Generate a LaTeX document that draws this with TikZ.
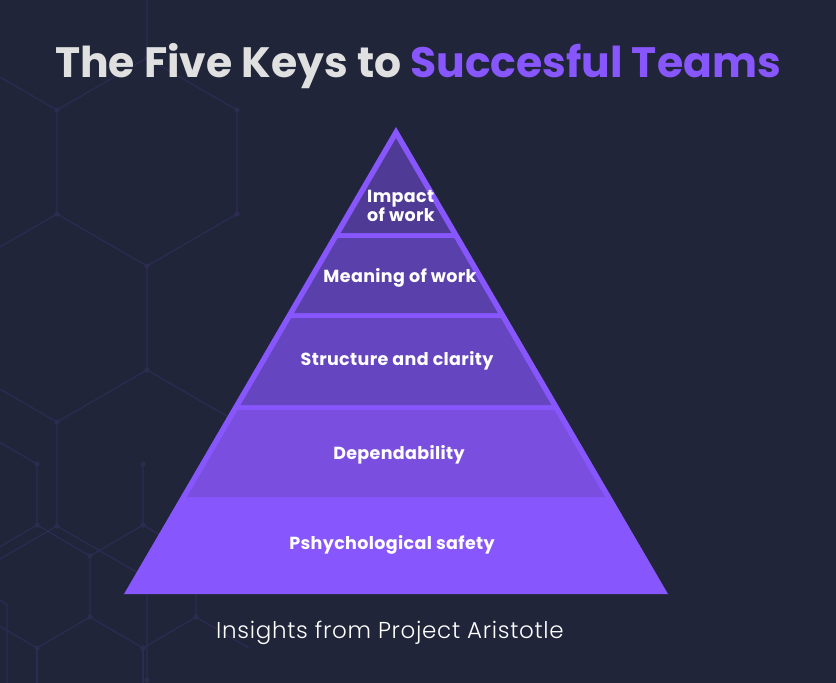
\documentclass[tikz,border=0pt]{standalone}
\usepackage{fontspec}
\setmainfont{Poppins}
\newfontfamily\lightfont{Poppins Light}[LetterSpace=3]
\newfontfamily\labelfont{Poppins}[LetterSpace=2]
\definecolor{bgnavy}{HTML}{20253A}
\definecolor{hexcol}{HTML}{2D2B50}
\definecolor{pbright}{HTML}{8856FD}
\definecolor{pband1}{HTML}{4F3B95}
\definecolor{pband2}{HTML}{5A40AB}
\definecolor{pband3}{HTML}{6645C0}
\definecolor{pband4}{HTML}{7A4FDF}
\definecolor{titlegray}{HTML}{E0E0E0}
\tikzset{
  hexline/.style={draw=hexcol, line width=1.3pt},
  hexdot/.style={fill=hexcol},
  bandlabel/.style={text=white, font=\labelfont\bfseries\fontsize{17.5}{19}\selectfont, inner sep=0pt},
}
\begin{document}
\begin{tikzpicture}[x=1pt,y=-1pt]
\useasboundingbox (0,0) rectangle (836,683);
\fill[bgnavy] (0,0) rectangle (836,683);
% background hexagon network
\begin{scope}
\clip (0,0) rectangle (836,683);
% large grid
\draw[hexline] (147,0) -- (147,58) -- (57,110) -- (-33,58);
\draw[hexline] (147,58) -- (237,110) -- (237,214) -- (147,266) -- (57,214) -- (57,110);
\draw[hexline] (57,214) -- (-33,266);
\draw[hexline] (147,266) -- (147,370) -- (57,422) -- (-33,370);
\draw[hexline] (147,370) -- (237,422);
\draw[hexline] (57,422) -- (57,526) -- (147,578) -- (147,683);
\draw[hexline] (57,526) -- (-33,578);
\foreach \p in {(147,58),(57,110),(237,110),(57,214),(237,214),(147,266),(147,370),(57,422),(57,526),(147,680)}
  \fill[hexdot] \p circle (2.6);
% small grid
\draw[hexline] (-16,433) -- (37,464) -- (37,525) -- (90,556) -- (143,525) -- (143,464);
\draw[hexline] (37,525) -- (-16,556);
\draw[hexline] (90,556) -- (90,617) -- (37,648) -- (-16,617);
\draw[hexline] (90,617) -- (143,648) -- (196,617) -- (196,556) -- (143,525);
\draw[hexline] (37,648) -- (37,683);
\draw[hexline] (143,648) -- (143,683);
\draw[hexline] (196,617) -- (249,648);
\draw[hexline] (0,600) -- (7,605) -- (7,683);
\foreach \p in {(37,464),(37,525),(143,464),(143,525),(90,556),(90,617),(37,648),(143,648),(196,617)}
  \fill[hexdot] \p circle (2.6);
\end{scope}
% title
\node[anchor=base, inner sep=0pt, font=\bfseries\fontsize{42.5}{45}\selectfont] (title) at (418,77)
  {\textcolor{titlegray}{The Five Keys to} \textcolor{pbright}{Succesful Teams}};
% pyramid
\fill[pbright] (396,127) -- (668,594) -- (124,594) -- cycle;
\fill[pband1] (396,138.2) -- (451.2,233) -- (340.8,233) -- cycle;
\fill[pband2] (337.85,238) -- (454.15,238) -- (497.8,313) -- (294.2,313) -- cycle;
\fill[pband3] (291.3,318) -- (500.7,318) -- (551.4,405) -- (240.6,405) -- cycle;
\fill[pband4] (237.7,410) -- (554.3,410) -- (605,497) -- (187,497) -- cycle;
% labels
\node[bandlabel, align=left] (impact) at (401,206) {Impact\\of work};
\node[bandlabel] (meaning) at (400,278) {Meaning of work};
\node[bandlabel] (structure) at (397,361) {Structure and clarity};
\node[bandlabel] (depend) at (399,455) {Dependability};
\node[bandlabel] (psych) at (392,545) {Pshychological safety};
% subtitle
\node[anchor=base, inner sep=0pt, text=white, font=\lightfont\fontsize{23}{25}\selectfont] (insights) at (390,638) {Insights from Project Aristotle};
\end{tikzpicture}
\end{document}
